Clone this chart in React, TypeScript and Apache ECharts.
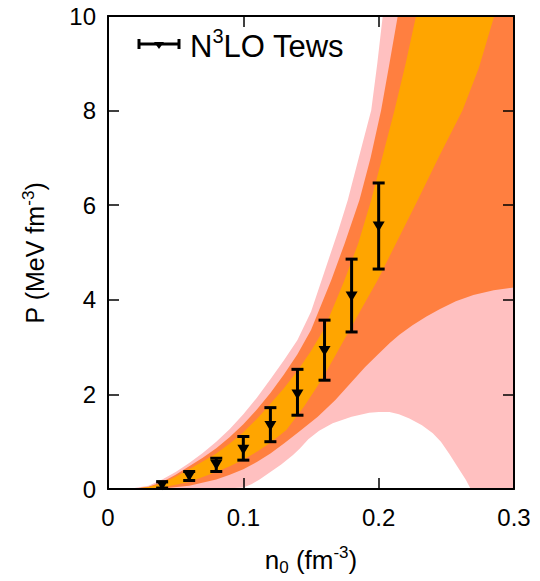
import React, { useEffect, useRef } from "react";
import * as echarts from "echarts";

// ---------- data ----------
const xTickLabels = ["0", "0.1", "0.2", "0.3"];
const yTickLabels = ["0", "2", "4", "6", "8", "10"];

// N3LO Tews points: density, pressure, lower, upper
const tewsDensity = [0.04, 0.06, 0.08, 0.1, 0.12, 0.14, 0.16, 0.18, 0.2];
const tewsPressure = [0.08, 0.27, 0.51, 0.83, 1.33, 2.0, 2.92, 4.07, 5.55];
const tewsLow = [0.02, 0.18, 0.37, 0.61, 1.0, 1.56, 2.3, 3.32, 4.65];
const tewsHigh = [0.15, 0.37, 0.65, 1.11, 1.72, 2.53, 3.57, 4.86, 6.47];

// band boundaries [density, pressure]
const pinkUpper = [
  [0.015, 0], [0.03, 0.07], [0.04, 0.2], [0.05, 0.36], [0.06, 0.55], [0.07, 0.76],
  [0.08, 1.0], [0.09, 1.27], [0.1, 1.58], [0.11, 1.93], [0.12, 2.32], [0.13, 2.72],
  [0.14, 3.15], [0.15, 3.75], [0.16, 4.6], [0.17, 5.45], [0.1772, 6.11], [0.18, 6.42],
  [0.188, 7.3], [0.1945, 8.01], [0.199, 9.0], [0.203, 10], [0.3, 10],
];
const pinkLower = [
  [0.015, 0], [0.08, 0], [0.1, 0.03], [0.106, 0.1], [0.112, 0.2], [0.12, 0.36],
  [0.128, 0.52], [0.1367, 0.72], [0.1416, 0.85], [0.148, 1.05], [0.156, 1.23],
  [0.166, 1.39], [0.18, 1.53], [0.193, 1.61], [0.2, 1.63], [0.208, 1.63], [0.215, 1.58],
  [0.2227, 1.49], [0.232, 1.35], [0.24, 1.18], [0.246, 1.0], [0.252, 0.75],
  [0.258, 0.48], [0.2645, 0.19], [0.268, 0], [0.3, 0],
];
const coralUpper = [
  [0.017, 0], [0.03, 0.05], [0.04, 0.15], [0.05, 0.3], [0.06, 0.48], [0.07, 0.66],
  [0.08, 0.86], [0.09, 1.1], [0.1, 1.37], [0.11, 1.68], [0.12, 2.03], [0.13, 2.42],
  [0.14, 2.85], [0.15, 3.36], [0.165, 4.42], [0.175, 5.2], [0.1858, 6.11], [0.194, 7.0],
  [0.2018, 8.01], [0.208, 9.0], [0.2141, 10], [0.3, 10],
];
const coralLower = [
  [0.017, 0], [0.04, 0.01], [0.06, 0.07], [0.08, 0.2], [0.09, 0.3], [0.1, 0.42],
  [0.11, 0.57], [0.12, 0.75], [0.13, 0.96], [0.1416, 1.22], [0.155, 1.53], [0.168, 1.88],
  [0.18, 2.26], [0.19, 2.58], [0.2, 2.86], [0.208, 3.08], [0.2153, 3.26], [0.225, 3.46],
  [0.235, 3.64], [0.245, 3.8], [0.257, 3.97], [0.27, 4.1], [0.285, 4.2], [0.3, 4.26],
];
const orangeUpper = [
  [0.018, 0], [0.03, 0.04], [0.04, 0.12], [0.05, 0.26], [0.06, 0.42], [0.07, 0.58],
  [0.08, 0.75], [0.09, 0.96], [0.1, 1.2], [0.11, 1.48], [0.12, 1.8], [0.13, 2.13],
  [0.14, 2.5], [0.15, 2.92], [0.16, 3.4], [0.1748, 4.42], [0.185, 5.2], [0.1945, 6.11],
  [0.203, 7.05], [0.2117, 8.01], [0.22, 9.0], [0.2276, 10],
];
const orangeLower = [
  [0.018, 0], [0.04, 0.03], [0.06, 0.15], [0.08, 0.36], [0.09, 0.48], [0.1, 0.62],
  [0.11, 0.79], [0.12, 0.98], [0.1318, 1.25], [0.145, 1.75], [0.1576, 2.3], [0.168, 2.82],
  [0.1785, 3.36], [0.1993, 4.42], [0.2289, 6.11], [0.245, 7.05], [0.262, 8.01],
  [0.274, 8.9], [0.2854, 10],
];

const FONT = "'Liberation Sans', Arial, Helvetica, sans-serif";

function bandSeries(upper: number[][], lower: number[][], color: string, z: number) {
  const poly = upper.concat(lower.slice().reverse());
  return {
    type: "custom",
    xAxisIndex: 0,
    yAxisIndex: 0,
    z,
    silent: true,
    data: [[0, 0]],
    renderItem: (_params: any, api: any) => ({
      type: "polygon",
      shape: { points: poly.map((p) => api.coord(p)) },
      style: { fill: color, stroke: null },
    }),
  };
}

export default function App() {
  const ref = useRef<HTMLDivElement>(null);
  useEffect(() => {
    if (!ref.current) return;
    const chart = echarts.init(ref.current, null, { renderer: "svg" });
    const axisLine = { show: true, onZero: false, lineStyle: { color: "#000", width: 2 } };
    const tick = { show: true, inside: true, length: 11, lineStyle: { color: "#000", width: 1.5 } };
    const labelStyle = { color: "#000", fontSize: 24, fontFamily: FONT };
    const errData = tewsDensity.map((x, i) => [x, tewsLow[i], tewsHigh[i]]);
    const ptData = tewsDensity.map((x, i) => [x, tewsPressure[i]]);
    chart.setOption({
      animation: false,
      backgroundColor: "#fff",
      grid: { left: 108, right: 26, top: 16, bottom: 92, containLabel: false },
      xAxis: [
        {
          type: "value", min: 0, max: 0.3, interval: 0.1, position: "bottom", z: 10,
          axisLine, axisTick: tick, splitLine: { show: false },
          axisLabel: { ...labelStyle, margin: 16, formatter: (v: number) => xTickLabels[Math.round(v / 0.1)] },
        },
        {
          type: "value", min: 0, max: 0.3, interval: 0.1, position: "top", z: 10,
          axisLine, axisTick: tick, splitLine: { show: false }, axisLabel: { show: false },
        },
      ],
      yAxis: [
        {
          type: "value", min: 0, max: 10, interval: 2, position: "left", z: 10,
          axisLine, axisTick: tick, splitLine: { show: false },
          axisLabel: { ...labelStyle, margin: 12, formatter: (v: number) => yTickLabels[Math.round(v / 2)] },
        },
        {
          type: "value", min: 0, max: 10, interval: 2, position: "right", z: 10,
          axisLine, axisTick: tick, splitLine: { show: false }, axisLabel: { show: false },
        },
      ],
      series: [
        bandSeries(pinkUpper, pinkLower, "#FFC0C0", 1),
        bandSeries(coralUpper, coralLower, "#FF7F40", 2),
        bandSeries(orangeUpper, orangeLower, "#FFA500", 3),
        {
          type: "custom",
          name: "N3LO Tews",
          z: 5,
          data: errData,
          renderItem: (_p: any, api: any) => {
            const lo = api.coord([api.value(0), api.value(1)]);
            const hi = api.coord([api.value(0), api.value(2)]);
            const hw = 6;
            const st = { stroke: "#000", lineWidth: 3 };
            return {
              type: "group",
              children: [
                { type: "line", shape: { x1: lo[0], y1: lo[1], x2: hi[0], y2: hi[1] }, style: st },
                { type: "line", shape: { x1: lo[0] - hw, y1: lo[1], x2: lo[0] + hw, y2: lo[1] }, style: st },
                { type: "line", shape: { x1: hi[0] - hw, y1: hi[1], x2: hi[0] + hw, y2: hi[1] }, style: st },
              ],
            };
          },
        },
        {
          type: "scatter",
          z: 6,
          data: ptData,
          symbol: "triangle",
          symbolRotate: 180,
          symbolSize: [12, 10],
          itemStyle: { color: "#000", opacity: 1 },
          silent: true,
        },
      ],
      graphic: [
        {
          type: "group",
          z: 20,
          children: [
            { type: "line", shape: { x1: 139, y1: 44, x2: 179, y2: 44 }, style: { stroke: "#000", lineWidth: 3 } },
            { type: "line", shape: { x1: 139, y1: 39, x2: 139, y2: 49 }, style: { stroke: "#000", lineWidth: 3 } },
            { type: "line", shape: { x1: 179, y1: 39, x2: 179, y2: 49 }, style: { stroke: "#000", lineWidth: 3 } },
            { type: "polygon", shape: { points: [[154, 42], [164, 42], [159, 49]] }, style: { fill: "#000" } },
            {
              type: "text",
              x: 190,
              y: 44,
              style: {
                text: "{a|N}{s|3}{a|LO Tews}",
                verticalAlign: "middle",
                align: "left",
                rich: {
                  a: { fontSize: 31, fontFamily: FONT, fill: "#000", lineHeight: 36, verticalAlign: "bottom" },
                  s: { fontSize: 20, fontFamily: FONT, fill: "#000", lineHeight: 20, verticalAlign: "top" },
                },
              },
            },
          ],
        },
        {
          type: "text",
          x: 311,
          y: 560,
          z: 20,
          style: {
            text: "{a|n}{b|0}{a| (fm}{s|-3}{a|)}",
            align: "center",
            verticalAlign: "middle",
            rich: {
              a: { fontSize: 26, fontFamily: FONT, fill: "#000", lineHeight: 32, verticalAlign: "middle" },
              b: { fontSize: 17, fontFamily: FONT, fill: "#000", lineHeight: 12, verticalAlign: "bottom" },
              s: { fontSize: 17, fontFamily: FONT, fill: "#000", lineHeight: 17, verticalAlign: "top" },
            },
          },
        },
        {
          type: "text",
          x: 35,
          y: 253,
          z: 20,
          rotation: Math.PI / 2,
          style: {
            text: "{a|P (MeV fm}{s|-3}{a|)}",
            align: "center",
            verticalAlign: "middle",
            rich: {
              a: { fontSize: 25, fontFamily: FONT, fill: "#000", lineHeight: 30, verticalAlign: "middle" },
              s: { fontSize: 17, fontFamily: FONT, fill: "#000", lineHeight: 17, verticalAlign: "top" },
            },
          },
        },
      ],
    });
    return () => chart.dispose();
  }, []);
  return <div ref={ref} style={{ width: 540, height: 581, position: "absolute", left: 0, top: 0 }} />;
}
